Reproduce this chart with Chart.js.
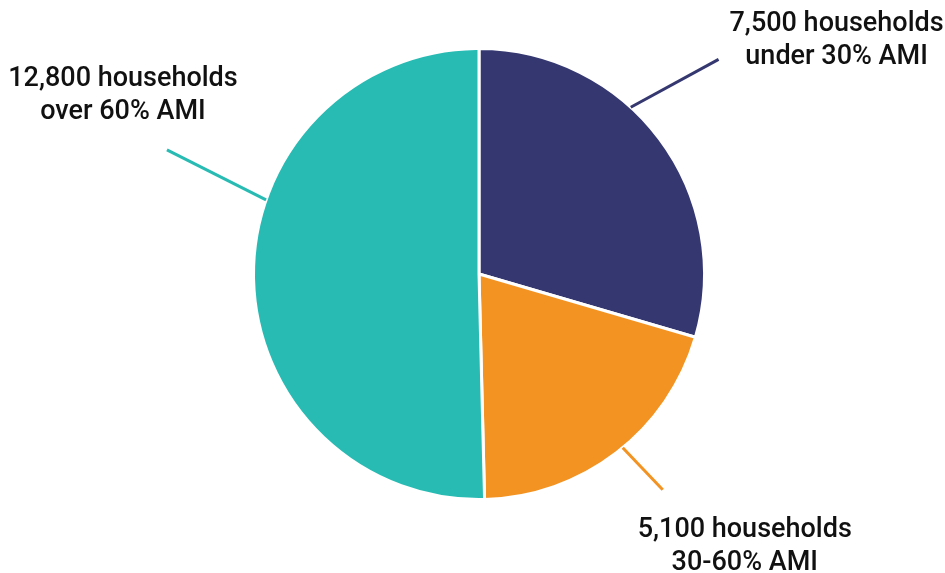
<!DOCTYPE html>
<html>
<head>
<meta charset="utf-8">
<script src="https://cdn.jsdelivr.net/npm/chart.js@4"></script>
<style>
  html, body { margin: 0; padding: 0; background: #fff; }
  #wrap { width: 945px; height: 573px; position: relative; }
</style>
</head>
<body>
<div id="wrap"><canvas id="pieChart"></canvas></div>
<script>
const categories = ["under 30% AMI", "30-60% AMI", "over 60% AMI"];
const households = [7500, 5100, 12800];
const sliceColors = ["#353870", "#F39322", "#27BBB4"];

// leader lines: where they leave the rim (deg), their heading (deg) and length
const leaderAt = [-47.7, 50.4, 199.2];
const leaderDir = [-28.6, 46.4, 206.8];
const leaderLen = [100, 58, 111];
// label centre relative to the line's outer end
const labelShift = [[118, -19], [82, 57], [-44, -54]];

const leaderLines = {
  id: "leaderLines",
  afterDraw(chart) {
    const ctx = chart.ctx;
    const arcs = chart.getDatasetMeta(0).data;
    ctx.save();
    arcs.forEach((arc, i) => {
      const r = arc.outerRadius;
      const a = leaderAt[i] * Math.PI / 180;
      const d = leaderDir[i] * Math.PI / 180;
      const x0 = arc.x + r * Math.cos(a);
      const y0 = arc.y + r * Math.sin(a);
      const x1 = x0 + leaderLen[i] * Math.cos(d);
      const y1 = y0 + leaderLen[i] * Math.sin(d);
      ctx.strokeStyle = sliceColors[i];
      ctx.lineWidth = 3;
      ctx.beginPath();
      ctx.moveTo(x0, y0);
      ctx.lineTo(x1, y1);
      ctx.stroke();

      const cx = x1 + labelShift[i][0];
      const cy = y1 + labelShift[i][1];
      ctx.fillStyle = "#111";
      ctx.font = "500 27px Roboto";
      ctx.textAlign = "center";
      ctx.textBaseline = "middle";
      ctx.fillText(households[i].toLocaleString("en-US") + " households", cx, cy - 16.5);
      ctx.fillText(categories[i], cx, cy + 16.5);
    });
    ctx.restore();
  }
};

const ctx = document.getElementById("pieChart").getContext("2d");
new Chart(ctx, {
  type: "pie",
  data: {
    labels: categories,
    datasets: [{
      data: households,
      backgroundColor: sliceColors,
      borderColor: "#fff",
      borderWidth: 3
    }]
  },
  options: {
    responsive: true,
    maintainAspectRatio: false,
    animation: false,
    layout: { padding: { top: 47, bottom: 72, left: 252, right: 239 } },
    plugins: {
      legend: { display: false },
      tooltip: { enabled: false }
    }
  },
  plugins: [leaderLines]
});
</script>
</body>
</html>
